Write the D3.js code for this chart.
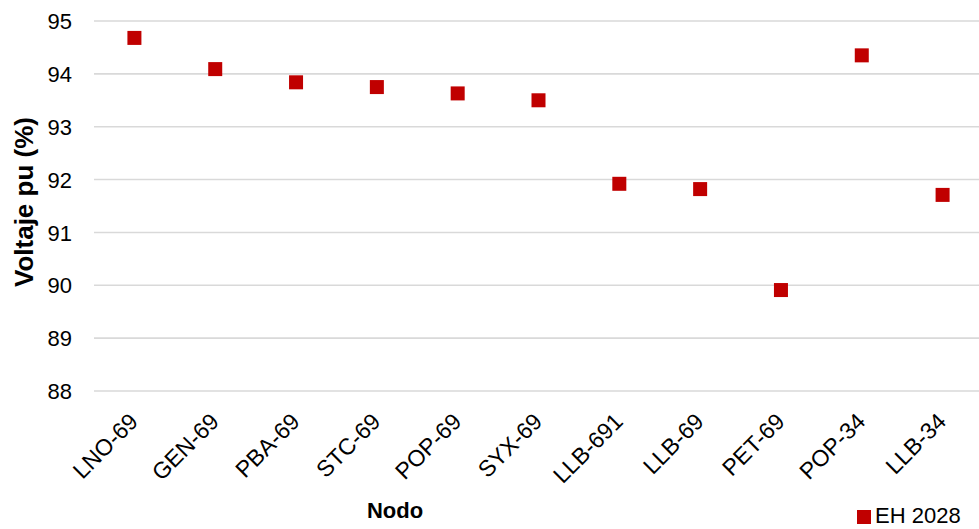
<!DOCTYPE html>
<html>
<head>
<meta charset="utf-8">
<script src="https://cdn.jsdelivr.net/npm/d3@7/dist/d3.min.js"></script>
<style>
  body { margin: 0; background: #fff; }
  svg { display: block; font-family: "Liberation Sans", Arial, sans-serif; }
</style>
</head>
<body>
<svg id="chart" width="979" height="529"></svg>
<script>
// Node voltages (pu, %) for the EH 2028 scenario
const nodos = ["LNO-69", "GEN-69", "PBA-69", "STC-69", "POP-69", "SYX-69", "LLB-691", "LLB-69", "PET-69", "POP-34", "LLB-34"];
const voltajes = [94.68, 94.09, 93.84, 93.75, 93.63, 93.50, 91.92, 91.82, 89.91, 94.35, 91.71];
const yTicks = [88, 89, 90, 91, 92, 93, 94, 95];
const serieNombre = "EH 2028";

const svg = d3.select("#chart");
const color = "#c00000";
const font = "Liberation Sans, Arial, sans-serif";

const x = d3.scaleBand().domain(nodos).range([94, 983]).paddingInner(0).paddingOuter(0);
const y = d3.scaleLinear().domain([88, 95]).range([391, 21]);

// horizontal gridlines
svg.append("g")
  .selectAll("line")
  .data(yTicks)
  .join("line")
  .attr("x1", 94).attr("x2", 979)
  .attr("y1", d => y(d)).attr("y2", d => y(d))
  .attr("stroke", "#d9d9d9")
  .attr("stroke-width", 1.6);

// y axis labels
const yAxis = d3.axisLeft(y).tickValues(yTicks).tickFormat(d3.format("d")).tickSize(0).tickPadding(0);
svg.append("g")
  .attr("transform", "translate(72,0)")
  .call(yAxis)
  .call(g => g.select(".domain").remove())
  .call(g => g.selectAll("text")
    .attr("font-size", 22)
    .attr("fill", "#000")
    .attr("font-family", font)
    .attr("dy", "0.35em"));

// x axis labels, rotated
const xAxis = d3.axisBottom(x).tickSize(0).tickPadding(0);
svg.append("g")
  .attr("transform", "translate(0,391)")
  .call(xAxis)
  .call(g => g.select(".domain").remove())
  .call(g => g.selectAll("text")
    .attr("font-size", 23)
    .attr("fill", "#000")
    .attr("font-family", font)
    .attr("text-anchor", "end")
    .attr("dy", null)
    .attr("y", 0)
    .attr("transform", "translate(5,32) rotate(-45)"));

// markers
const s = 14;
svg.append("g")
  .selectAll("rect")
  .data(nodos.map((n, i) => ({ n, v: voltajes[i] })))
  .join("rect")
  .attr("x", d => x(d.n) + x.bandwidth() / 2 - s / 2)
  .attr("y", d => y(d.v) - s / 2)
  .attr("width", s).attr("height", s)
  .attr("fill", color);

// axis titles
svg.append("text")
  .attr("transform", "translate(33,202) rotate(-90)")
  .attr("text-anchor", "middle")
  .attr("font-size", 26)
  .attr("font-weight", "bold")
  .text("Voltaje pu (%)");

svg.append("text")
  .attr("x", 395).attr("y", 518)
  .attr("text-anchor", "middle")
  .attr("font-size", 22)
  .attr("font-weight", "bold")
  .text("Nodo");

// legend
const lg = svg.append("g").attr("transform", "translate(857,510)");
lg.append("rect").attr("width", 14).attr("height", 14).attr("fill", color);
lg.append("text").attr("x", 18).attr("y", 13)
  .attr("font-size", 22)
  .text(serieNombre);
</script>
</body>
</html>
